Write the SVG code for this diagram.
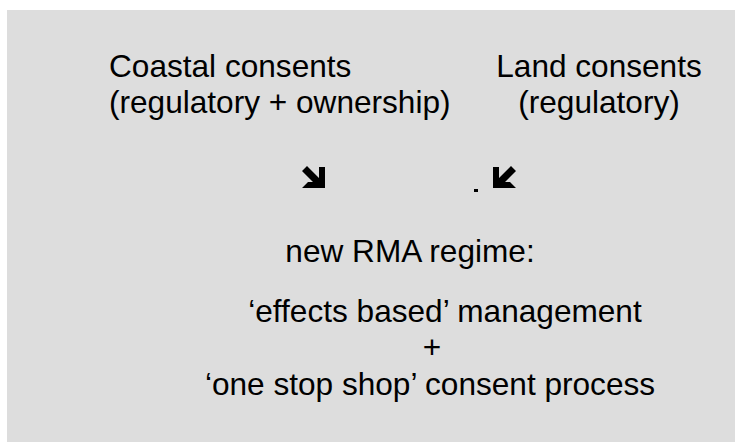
<svg xmlns="http://www.w3.org/2000/svg" width="735" height="442" viewBox="0 0 735 442">
  <style>
    .t { font-family: "Liberation Sans", Arial, sans-serif; font-size: 31.6px; fill: #000; }
    .mid { text-anchor: middle; }
    .arrow { fill: #000; }
  </style>
  <!-- background panel -->
  <rect x="7" y="10" width="728" height="432" fill="#dddddd"/>

  <g id="coastal-consents">
    <text class="t" x="109" y="77">Coastal consents</text>
    <text class="t" x="109" y="113">(regulatory + ownership)</text>
  </g>

  <g id="land-consents">
    <text class="t mid" x="599" y="77">Land consents</text>
    <text class="t mid" x="599" y="113">(regulatory)</text>
  </g>

  <g id="connectors">
    <!-- arrow pointing down-right -->
    <polygon class="arrow" points="307,166 319,178 319,167 325,167 325,188 302,188 308,182 313,182 302,171"/>
    <!-- arrow pointing down-left -->
    <polygon class="arrow" points="511,166 499,178 499,167 493,167 493,188 516,188 510,182 505,182 516,171"/>
    <rect class="arrow" x="474" y="189" width="4" height="3"/>
  </g>

  <g id="rma-regime">
    <text class="t mid" x="410" y="262">new RMA regime:</text>
    <text class="t mid" x="445" y="322">‘effects based’ management</text>
    <text class="t mid" x="432" y="358">+</text>
    <text class="t mid" x="430" y="395">‘one stop shop’ consent process</text>
  </g>
</svg>
